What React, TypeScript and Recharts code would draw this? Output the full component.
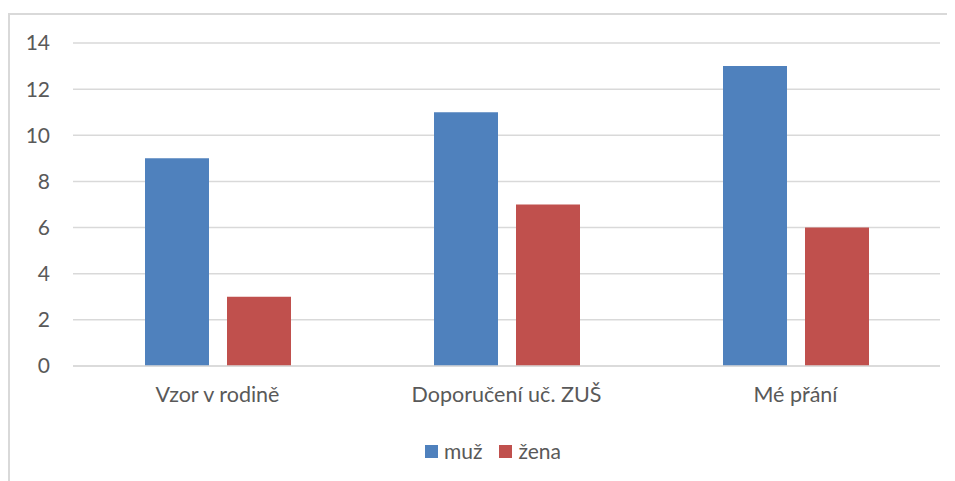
import React from 'react';
import { BarChart, Bar, XAxis, YAxis, CartesianGrid, Legend } from 'recharts';

const categories = ['Vzor v rodině', 'Doporučení uč. ZUŠ', 'Mé přání'];
const muz = [9, 11, 13];
const zena = [3, 7, 6];
const yTicks = [0, 2, 4, 6, 8, 10, 12, 14];
const seriesNames = ['muž', 'žena'];
const colors = ['#4F81BD', '#C0504D'];

const data = categories.map((c, i) => ({ name: c, muz: muz[i], zena: zena[i] }));

const FONT = 'Lato, "Open Sans", sans-serif';

const LegendContent = () => (
  <div style={{ display: 'flex', justifyContent: 'center', fontFamily: FONT, fontSize: 21, color: '#595959', height: 24, lineHeight: '24px', paddingLeft: 38 }}>
    {seriesNames.map((n, i) => (
      <div key={n} style={{ display: 'flex', alignItems: 'center', marginRight: i === 0 ? 17 : 0 }}>
        <div style={{ width: 13, height: 13, background: colors[i], marginRight: 6 }} />
        <span>{n}</span>
      </div>
    ))}
  </div>
);

export default function App() {
  return (
    <div style={{ position: 'relative', width: 947, height: 473 }}>
      <style>{'html,body{overflow:hidden}'}</style>
      <div style={{ position: 'absolute', left: 0, top: 5, width: 947, height: 2, background: '#D9D9D9' }} />
      <div style={{ position: 'absolute', left: 0, top: 5, width: 2, height: 468, background: '#D9D9D9' }} />
      <BarChart
        width={947}
        height={473}
        data={data}
        margin={{ top: 35, right: 15, left: 0, bottom: 31 }}
        barSize={64}
        barGap={18}
        style={{ position: 'absolute', left: 0, top: 0 }}
      >
        <CartesianGrid vertical={false} stroke="#D9D9D9" strokeWidth={1.5} />
        <XAxis
          dataKey="name"
          axisLine={{ stroke: '#D9D9D9', strokeWidth: 1.5 }}
          tickLine={false}
          tickSize={0}
          tickMargin={21}
          height={60}
          tick={{ fill: '#595959', fontSize: 21.5, fontFamily: FONT }}
        />
        <YAxis
          ticks={yTicks}
          domain={[0, 14]}
          axisLine={false}
          tickLine={false}
          tickSize={0}
          tickMargin={23}
          width={65}
          tick={{ fill: '#595959', fontSize: 21, fontFamily: FONT }}
        />
        <Legend verticalAlign="bottom" content={<LegendContent />} wrapperStyle={{ bottom: 18 }} />
        <Bar dataKey="muz" name="muž" fill={colors[0]} isAnimationActive={false} />
        <Bar dataKey="zena" name="žena" fill={colors[1]} isAnimationActive={false} />
      </BarChart>
    </div>
  );
}
